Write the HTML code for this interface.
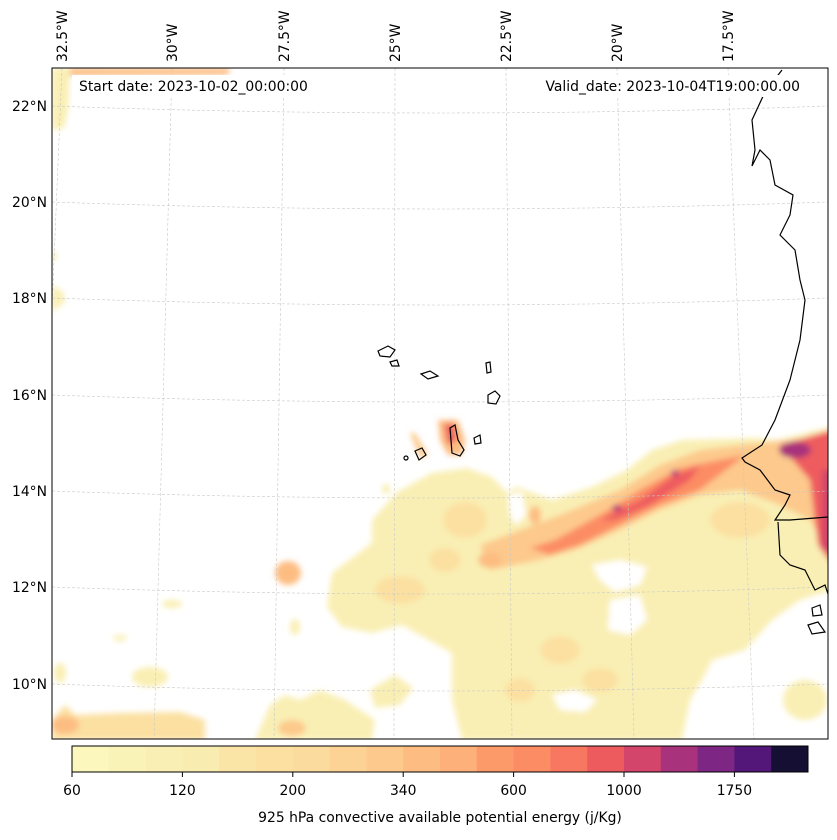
<!DOCTYPE html>
<html><head><meta charset="utf-8"><style>
body{margin:0;background:#fff;width:837px;height:836px;overflow:hidden;font-family:"DejaVu Sans",sans-serif}
svg text{font-family:"DejaVu Sans",sans-serif;font-size:13.9px;fill:#000}
</style></head><body>
<svg id="chart" width="837" height="836" xmlns="http://www.w3.org/2000/svg">
<defs>
<clipPath id="frame"><rect x="52" y="68" width="776" height="671"/></clipPath>
<filter id="bl" x="-10%" y="-10%" width="120%" height="120%"><feGaussianBlur stdDeviation="3"/></filter>
</defs>
<g clip-path="url(#frame)">
<g filter="url(#bl)">
<polygon fill="#f9efb4" points="327,607 332,573 372,543 372,520 397,492 432,473 467,468 492,477 507,493 517,487 552,500 592,487 627,470 652,450 682,440 752,438 777,440 817,430 832,427 832,590 800,600 772,620 745,650 712,660 702,680 690,700 682,740 462,740 452,700 452,653 402,625 372,633 342,627"/>
<polygon fill="#fff" points="592,565 620,560 647,567 640,585 615,592 600,580"/>
<polygon fill="#fff" points="610,600 640,595 647,620 630,635 608,630"/>
<polygon fill="#fff" points="552,695 575,690 597,700 585,712 560,710"/>
<polygon fill="#fff" points="508,495 522,492 526,515 516,525 510,515"/>
<ellipse fill="#fbe0a1" cx="465" cy="520" rx="22" ry="18"/>
<ellipse fill="#fbe0a1" cx="400" cy="590" rx="25" ry="14"/>
<ellipse fill="#fbe0a1" cx="445" cy="560" rx="16" ry="12"/>
<ellipse fill="#fbe0a1" cx="560" cy="650" rx="20" ry="14"/>
<ellipse fill="#fbe0a1" cx="600" cy="680" rx="18" ry="12"/>
<ellipse fill="#fbe0a1" cx="520" cy="690" rx="15" ry="12"/>
<ellipse fill="#fbe0a1" cx="740" cy="520" rx="30" ry="18"/>
<polygon fill="#fdc98c" points="480,545 560,515 620,490 660,465 700,450 740,445 790,440 832,435 832,560 810,520 780,505 740,490 700,495 660,510 620,530 580,548 540,560 490,570"/>
<ellipse fill="#fdbd82" cx="490" cy="560" rx="12" ry="8"/>
<ellipse fill="#fdbd82" cx="535" cy="515" rx="6" ry="9"/>
<polygon fill="#fc8c63" points="530,548 555,540 600,515 640,490 680,468 720,460 745,455 700,490 660,505 620,525 580,545 550,555"/>
<polygon fill="#ee5b5e" points="600,520 640,500 670,478 700,465 690,480 650,505 615,520"/>
<polygon fill="#ee5b5e" points="780,445 832,430 832,565 818,545 810,480"/>
<ellipse fill="#a8327b" cx="795" cy="450" rx="16" ry="8"/>
<rect fill="#d4456b" x="822" y="470" width="12" height="80"/>
<ellipse fill="#a8327b" cx="617" cy="508" rx="5" ry="3"/>
<ellipse fill="#a8327b" cx="675" cy="473" rx="4" ry="3"/>
<polygon fill="#fdbd82" points="438,420 458,420 465,440 462,455 448,455 440,440"/>
<polygon fill="#ee5b5e" points="444,424 454,424 457,440 448,445"/>
<polygon fill="#fdc98c" points="410,433 415,433 428,455 420,458"/>
<ellipse fill="#fdbd82" cx="288" cy="573" rx="13" ry="12"/>
<polygon fill="#fbe0a1" points="52,720 65,705 75,715 120,713 180,712 205,720 205,740 52,740"/>
<ellipse fill="#fdbd82" cx="65" cy="725" rx="14" ry="9"/>
<polygon fill="#f9efb4" points="255,740 270,705 285,695 300,700 320,690 345,700 375,720 372,740"/>
<ellipse fill="#fdc98c" cx="292" cy="728" rx="14" ry="8"/>
<polygon fill="#f9efb4" points="370,690 395,675 413,688 400,705 375,708"/>
<polygon fill="#fdbd82" points="52,68 230,68 228,75 52,76"/>
<polygon fill="#f9efb4" points="52,68 70,68 68,110 64,128 52,130"/>
<polygon fill="#f9efb4" points="52,285 63,292 65,302 52,312"/>
<polygon fill="#f9efb4" points="52,250 58,256 52,262"/>
<ellipse fill="#f9efb4" cx="150" cy="677" rx="18" ry="10"/>
<ellipse fill="#f9efb4" cx="172" cy="604" rx="10" ry="4"/>
<ellipse fill="#f9efb4" cx="120" cy="638" rx="7" ry="3"/>
<ellipse fill="#f9efb4" cx="295" cy="627" rx="5" ry="8"/>
<ellipse fill="#f9efb4" cx="386" cy="489" rx="4" ry="5"/>
<ellipse fill="#f9efb4" cx="805" cy="700" rx="22" ry="20"/>
<ellipse fill="#f9efb4" cx="60" cy="673" rx="6" ry="10"/>
</g>
<g id="grid" stroke="#c8c8c8" stroke-width="0.6" stroke-dasharray="3,2" fill="none"></g>
<g stroke="#000" stroke-width="1.2" fill="none">
<polyline points="782,70 765,92 752,120 755,150 752,166 760,150 770,160 775,185 793,195 790,215 780,235 795,250 800,280 805,300 800,340 790,380 775,420 762,445 742,458 745,462 760,470 775,490 790,495 785,505 775,520 790,520 828,517"/>
<polyline points="778,522 780,555 790,565 805,570 815,590 825,585 830,600"/>
<polygon points="378,351 388,346 395,350 390,357 380,356"/>
<polygon points="390,362 397,360 399,366 392,366"/>
<polygon points="421,374 430,371 438,376 428,379"/>
<polygon points="486,363 490,362 491,372 487,373"/>
<polygon points="488,395 495,391 500,396 496,404 488,403"/>
<polygon points="450,428 455,425 458,440 464,450 460,456 452,453"/>
<polygon points="474,438 480,435 481,443 475,444"/>
<polygon points="415,451 422,448 426,455 419,460"/>
<ellipse cx="406" cy="458" rx="2" ry="2"/>
<polygon points="812,608 820,605 822,615 813,616"/>
<polygon points="808,625 818,622 825,632 812,634"/>
</g>
</g>
<rect x="52" y="68" width="776" height="671" fill="none" stroke="#000" stroke-width="1"/>
<rect x="72" y="75" width="242" height="22" fill="#fff"/>
<text x="79" y="91">Start date: 2023-10-02_00:00:00</text>
<rect x="538" y="75" width="268" height="22" fill="#fff"/>
<text x="800" y="91" text-anchor="end">Valid_date: 2023-10-04T19:00:00.00</text>
<g id="lonlabels"></g>
<g id="latlabels"></g>
<g id="cbar"></g>
<text x="440" y="822" text-anchor="middle">925 hPa convective available potential energy (j/Kg)</text>
</svg>
<script>
const cbColors=["#fbf7bd","#faf3b7","#f9efb4","#f9ecb1","#fae5a7","#fbe0a1","#fcdb9f","#fdd295","#fdc98c","#fdbd82","#fdb07a","#fd9a6a","#fc8c63","#f77760","#ee5b5e","#d4456b","#a8327b","#7d2683","#531679","#150f33"];
const cbTicks=["60","120","200","340","600","1000","1750"];
const lonLabels=["32.5°W","30°W","27.5°W","25°W","22.5°W","20°W","17.5°W"];
const lonTopX=[62,172,284,395,506,617,728];
const lonBotX=[34,154,274,394,512,634,754];
const latLabels=["22°N","20°N","18°N","16°N","14°N","12°N","10°N"];
const latY=[106,202,298,395,491,587,684];
const NS="http://www.w3.org/2000/svg";
function mk(t,a,p){const e=document.createElementNS(NS,t);for(const k in a)e.setAttribute(k,a[k]);p.appendChild(e);return e;}
const grid=document.getElementById('grid');
latY.forEach(y=>{const p=mk('path',{d:`M52,${y} Q440,${y+14} 828,${y}`},grid);

});
lonTopX.forEach((x,i)=>{const l=mk('line',{x1:x,y1:68,x2:lonBotX[i],y2:739},grid);

});
const ll=document.getElementById('lonlabels');
lonLabels.forEach((s,i)=>{const t=mk('text',{x:0,y:0,transform:`translate(${lonTopX[i]+5},62) rotate(-90)`},ll);t.textContent=s;

});
const la=document.getElementById('latlabels');
latLabels.forEach((s,i)=>{const t=mk('text',{x:47,y:latY[i]+5,'text-anchor':'end'},la);t.textContent=s;

});
const cb=document.getElementById('cbar');
const cx0=72,cw=736,cy0=746,ch=26,bw=cw/cbColors.length;
cbColors.forEach((c,i)=>{const r=mk('rect',{x:cx0+i*bw,y:cy0,width:bw+0.5,height:ch,fill:c},cb);

});
mk('rect',{x:cx0,y:cy0,width:cw,height:ch,fill:'none',stroke:'#000','stroke-width':1},cb);
cbTicks.forEach((s,i)=>{const x=cx0+i*3*bw;mk('line',{x1:x,y1:cy0+ch,x2:x,y2:cy0+ch+5,stroke:'#000'},cb);
const t=mk('text',{x:x,y:795,'text-anchor':'middle'},cb);t.textContent=s;

});
</script>
</body></html>
